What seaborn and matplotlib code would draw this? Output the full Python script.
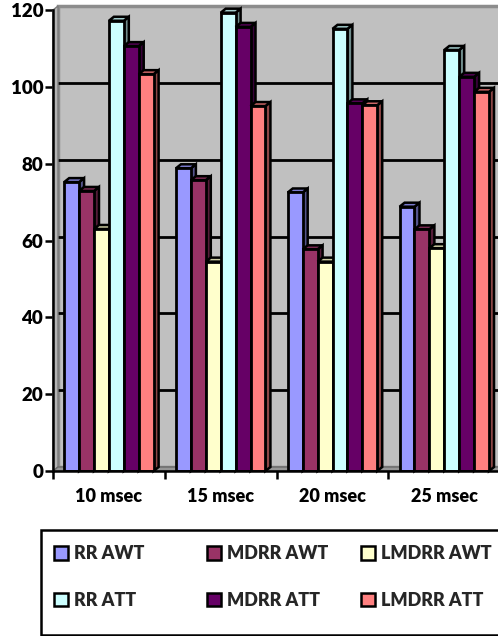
import numpy as np
import pandas as pd
import seaborn as sns
import matplotlib
matplotlib.use("Agg")
import matplotlib.pyplot as plt
from matplotlib.patches import Polygon, Rectangle, Patch
from matplotlib.transforms import ScaledTranslation, IdentityTransform

categories = ['10 msec', '15 msec', '20 msec', '25 msec']
series = ['RR AWT', 'MDRR AWT', 'LMDRR AWT', 'RR ATT', 'MDRR ATT', 'LMDRR ATT']
rr_awt = [75.2, 78.8, 72.5, 68.8]
mdrr_awt = [72.9, 75.7, 57.7, 62.9]
lmdrr_awt = [63.0, 54.5, 54.5, 58.0]
rr_att = [117.2, 119.3, 115.1, 109.6]
mdrr_att = [110.6, 115.6, 95.7, 102.6]
lmdrr_att = [103.3, 95.0, 95.2, 98.7]
colors = ['#9999FF', '#993366', '#FFFFCC', '#CCFFFF', '#660066', '#FF8080']
yticks = [0, 20, 40, 60, 80, 100, 120]

sns.set_theme(style="white")
plt.rcParams['font.family'] = ['Lato', 'DejaVu Sans']
FW = 800

W, H = 498, 636
DX, DY = 5, 4  # 3-D depth in pixels
fig = plt.figure(figsize=(W / 100, H / 100), dpi=100)
fig.patch.set_facecolor('white')
cat_px = 111.8
ax = fig.add_axes([53 / W, (H - 471) / H, 4 * cat_px / W, 461 / H])

rows = []
for s, vals in zip(series, [rr_awt, mdrr_awt, lmdrr_awt, rr_att, mdrr_att, lmdrr_att]):
    for c, v in zip(categories, vals):
        rows.append(dict(category=c, series=s, value=v))
df = pd.DataFrame(rows)

sns.barplot(data=df, x='category', y='value', hue='series', order=categories,
            hue_order=series, palette=colors, saturation=1, width=0.8, gap=0,
            edgecolor='black', linewidth=2, legend=False, ax=ax, errorbar=None)
bars = sorted([p for p in ax.patches if isinstance(p, Rectangle)], key=lambda p: p.get_x())

ax.set_xlim(-0.5, 3.5)
ax.set_ylim(0, 120)
ax.set_facecolor('none')
ax.set_xlabel('')
ax.set_ylabel('')

# back wall and gridlines (shifted by depth)
wtrans = ax.transData + ScaledTranslation(DX / 100, DY / 100, fig.dpi_scale_trans)
ax.add_patch(Rectangle((-0.5, 0), 4, 120, transform=wtrans, facecolor='#C0C0C0',
                       edgecolor='#8C8C8C', lw=2.5, zorder=0, clip_on=False))
for t in yticks[1:-1]:
    ax.plot([-0.5, 3.5], [t, t], transform=wtrans, color='black', lw=2,
            zorder=0.5, clip_on=False)
ax.set_xlim(-0.5, 3.5)
ax.set_ylim(0, 120)

ident = IdentityTransform()
X0, Y0 = ax.transData.transform((-0.5, 0))
X1, _ = ax.transData.transform((3.5, 0))
_, YT = ax.transData.transform((-0.5, 120))
ax.add_patch(Polygon([(X0, Y0), (X0, YT), (X0 + DX, YT + DY), (X0 + DX, Y0 + DY)],
                     closed=True, transform=ident, facecolor='#B4B4B4', edgecolor='#7A7A7A',
                     lw=1, zorder=0.6, clip_on=False))
ax.add_patch(Polygon([(X0, Y0), (X1, Y0), (X1 + DX, Y0 + DY), (X0 + DX, Y0 + DY)],
                     closed=True, transform=ident, facecolor='#969696', edgecolor='#6A6A6A',
                     lw=1, zorder=0.6, clip_on=False))

# 3-D faces for bars
for k, p in enumerate(bars):
    fc = np.array(p.get_facecolor()[:3])
    bx0, by0 = ax.transData.transform((p.get_x(), 0))
    bx1, by1 = ax.transData.transform((p.get_x() + p.get_width(), p.get_height()))
    z = 3 + 0.01 * k
    top = [(bx0, by1), (bx1, by1), (bx1 + DX, by1 + DY), (bx0 + DX, by1 + DY)]
    side = [(bx1, by0), (bx1, by1), (bx1 + DX, by1 + DY), (bx1 + DX, by0 + DY)]
    ax.add_patch(Polygon(side, closed=True, transform=ident, facecolor=fc * 0.55,
                         edgecolor='black', lw=1.8, zorder=z, clip_on=False))
    ax.add_patch(Polygon(top, closed=True, transform=ident, facecolor=fc * 0.8,
                         edgecolor='black', lw=1.8, zorder=z, clip_on=False))
    p.set_zorder(z + 0.005)

# axes styling
for s in ['top', 'right']:
    ax.spines[s].set_visible(False)
for s in ['left', 'bottom']:
    ax.spines[s].set_color('black')
    ax.spines[s].set_linewidth(1.8)
    ax.spines[s].set_zorder(5)
ax.set_yticks(yticks)
ax.set_yticklabels([str(t) for t in yticks], fontsize=13.5, fontweight=FW)
ax.tick_params(axis='y', left=True, length=6, width=1.8, pad=1, color='black',
               labelcolor='black', direction='out')
ax.set_xticks(range(len(categories)))
ax.set_xticklabels(categories, fontsize=13, fontweight=FW)
ax.set_xticks([i - 0.5 for i in range(len(categories) + 1)], minor=True)
ax.tick_params(axis='x', which='major', length=0, pad=12, labelcolor='black')
ax.tick_params(axis='x', which='minor', bottom=True, length=6, width=1.8, color='black',
               direction='out')

# legend (three columns of equal width, framed box)
fig.add_artist(Rectangle((41 / W, (H - 635) / H), (520 - 41) / W, (635 - 530) / H,
                         transform=fig.transFigure, facecolor='white', edgecolor='black',
                         lw=1.8, zorder=1))
cols = [(0, 3, 54), (1, 4, 207), (2, 5, 361)]
for a, b, xpx in cols:
    handles = [Patch(facecolor=colors[i], edgecolor='black', lw=1.8) for i in (a, b)]
    leg = fig.legend(handles, [series[a], series[b]], loc='upper left',
                     bbox_to_anchor=(xpx / W, 1 - 545 / H), frameon=False,
                     borderpad=0, borderaxespad=0, handlelength=0.8, handleheight=0.8,
                     handletextpad=0.3, labelspacing=1.65,
                     prop=dict(family=['Lato', 'DejaVu Sans'], weight=FW, size=13))
    leg.set_zorder(2)

fig.savefig('out.png', dpi=100, facecolor='white')
